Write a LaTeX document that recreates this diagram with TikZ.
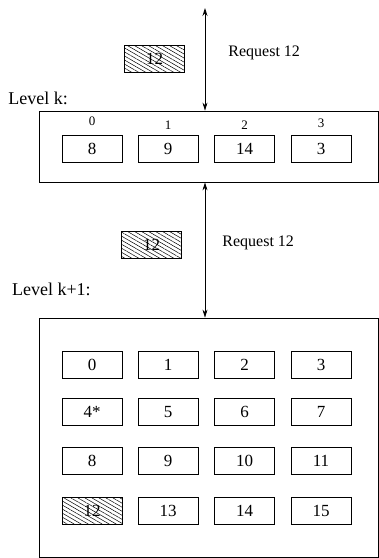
\documentclass[tikz,border=0pt]{standalone}
\usepackage{fontspec}
\setmainfont{Liberation Serif}
\usetikzlibrary{patterns.meta,arrows.meta}
\begin{document}
\begin{tikzpicture}[x=1pt, y=-1pt, line width=0.8pt,
    >={Stealth[length=8pt, width=5pt]},
    cell/.style={draw, minimum width=60pt, minimum height=26.5pt, inner sep=0pt,
      font=\fontsize{17}{17}\selectfont},
    hatch/.style={pattern={Lines[angle=-30, distance=3.5pt, line width=0.5pt]}},
    level/.style={draw, minimum width=339pt, inner sep=0pt},
    lbl/.style={anchor=west, inner sep=0pt, font=\fontsize{18}{18}\selectfont},
    req/.style={anchor=west, inner sep=0pt, font=\fontsize{16}{16}\selectfont}]
  \useasboundingbox (0,0) rectangle (379,558);

  % level k
  \node[lbl] (lk text) at (8,98) {Level k:};
  \node[level, minimum height=71pt] (lk) at (209,146.5) {};
  \foreach \x/\v/\iy [count=\i from 0] in {92/8/121.5, 168/9/125.3, 244.5/14/125, 321/3/123.5}
  {
    \node[cell] (k\i) at (\x,149) {\v};
    \node[inner sep=0pt, font=\fontsize{13}{13}\selectfont] (idx\i) at (\x,\iy) {\i};
  }

  % level k+1
  \node[lbl] (lk1 text) at (11.7,289.5) {Level k+1:};
  \node[level, minimum height=239.5pt] (lk1) at (209,437.75) {};
  \foreach \y [count=\r from 0] in {365,411.7,461,511}
    \foreach \x [count=\c from 0] in {92,168,244.5,321}
    {
      \pgfmathtruncatemacro\n{4*\r+\c}
      \ifnum\n=12
        \node[cell, hatch] (b\n) at (\x,\y) {\n};
      \else\ifnum\n=4
        \node[cell] (b\n) at (\x,\y) {\n*};
      \else
        \node[cell] (b\n) at (\x,\y) {\n};
      \fi\fi
    }

  % requests
  \coordinate (top) at (205,8);
  \draw[<->] (top) -- (top |- lk.north);
  \node[cell, hatch, minimum height=27pt] (req k) at (154.5,58.5) {12};
  \node[req] (req k text) at (228,53) {Request 12};

  \draw[<->] (top |- lk.south) -- (top |- lk1.north);
  \node[cell, hatch] (req k1) at (151.5,245) {12};
  \node[req] (req k1 text) at (222,243) {Request 12};
\end{tikzpicture}
\end{document}
